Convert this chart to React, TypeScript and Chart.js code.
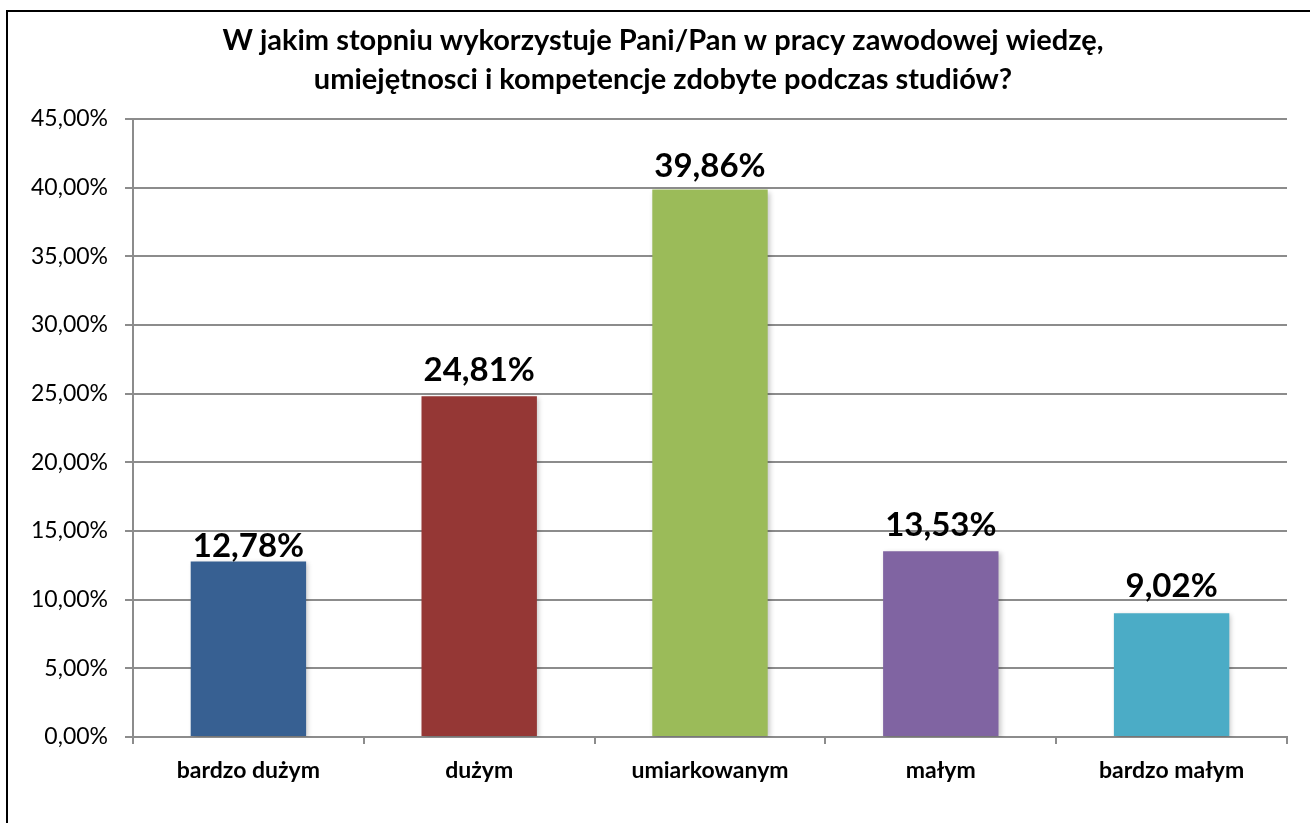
import React, { useEffect, useRef } from "react";
import { Chart, registerables } from "chart.js";

Chart.register(...registerables);

const categories = ["bardzo dużym", "dużym", "umiarkowanym", "małym", "bardzo małym"];
const values = [12.78, 24.81, 39.86, 13.53, 9.02];
const barColors = ["#376092", "#953735", "#9BBB59", "#8064A2", "#4BACC6"];
const titleLines = [
  "W jakim stopniu wykorzystuje Pani/Pan w pracy zawodowej wiedzę,",
  "umiejętnosci i kompetencje zdobyte podczas studiów?",
];
const yMin = 0;
const yMax = 45;
const yStep = 5;

const FONT = "Lato, 'Open Sans', sans-serif";
const labelOffsets = [4, 15, 13, 15, 16];

const fmt = (v: number) => v.toFixed(2).replace(".", ",") + "%";

export default function App() {
  const ref = useRef<HTMLCanvasElement | null>(null);
  useEffect(() => {
    if (!ref.current) return;
    const framePlugin = {
      id: "frame",
      beforeDraw(chart: any) {
        const ctx = chart.ctx;
        ctx.save();
        ctx.fillStyle = "#ffffff";
        ctx.fillRect(0, 0, chart.width, chart.height);
        ctx.fillStyle = "#000000";
        ctx.fillRect(6, 10, chart.width - 6, 2);
        ctx.fillRect(6, 10, 2, chart.height - 10);
        ctx.restore();
      },
      afterDraw(chart: any) {
        const ctx = chart.ctx;
        ctx.save();
        ctx.fillStyle = "#000";
        ctx.font = `bold 29px ${FONT}`;
        ctx.textAlign = "center";
        ctx.textBaseline = "alphabetic";
        ctx.fillText(titleLines[0], 663, 50);
        ctx.fillText(titleLines[1], 663, 89);
        ctx.restore();
      },
    };
    const shadowPlugin = {
      id: "barShadow",
      beforeDatasetsDraw(chart: any) {
        const ctx = chart.ctx;
        ctx.save();
        ctx.shadowColor = "rgba(0,0,0,0.22)";
        ctx.shadowBlur = 5;
        ctx.shadowOffsetX = 2;
        ctx.shadowOffsetY = 2;
      },
      afterDatasetsDraw(chart: any) {
        chart.ctx.restore();
        const ctx = chart.ctx;
        const meta = chart.getDatasetMeta(0);
        ctx.save();
        ctx.fillStyle = "#000";
        ctx.font = `bold 33px ${FONT}`;
        ctx.textAlign = "center";
        ctx.textBaseline = "alphabetic";
        meta.data.forEach((bar: any, i: number) => {
          ctx.fillText(fmt(values[i]), bar.x, bar.y - labelOffsets[i]);
        });
        ctx.restore();
      },
    };
    const chart = new Chart(ref.current, {
      type: "bar",
      data: {
        labels: categories,
        datasets: [
          {
            data: values,
            backgroundColor: barColors,
            borderWidth: 0,
            categoryPercentage: 1,
            barPercentage: 0.5,
          },
        ],
      },
      options: {
        animation: false,
        responsive: false,
        maintainAspectRatio: false,
        layout: { padding: { top: 119, right: 23, bottom: 26, left: 0 } },
        plugins: {
          legend: { display: false },
          title: { display: false },
          tooltip: { enabled: false },
        },
        scales: {
          x: {
            grid: {
              display: true,
              drawOnChartArea: false,
              drawTicks: true,
              tickLength: 7,
              color: "#8c8c8c",
              lineWidth: 2,
            },
            border: { display: true, color: "#8c8c8c", width: 2 },
            ticks: {
              color: "#000",
              font: { family: FONT, size: 23, weight: "bold" },
              padding: 13,
              maxRotation: 0,
            },
            afterFit(scale: any) {
              scale.height = 60;
            },
          },
          y: {
            min: yMin,
            max: yMax,
            grid: {
              color: "#8c8c8c",
              lineWidth: 2,
              tickLength: 8,
              drawTicks: true,
            },
            border: { display: true, color: "#8c8c8c", width: 2 },
            ticks: {
              stepSize: yStep,
              color: "#000",
              font: { family: FONT, size: 23 },
              padding: 17,
              callback: (v: any) => fmt(Number(v)),
            },
            afterFit(scale: any) {
              scale.width = 133;
            },
          },
        },
      },
      plugins: [framePlugin, shadowPlugin],
    } as any);
    return () => chart.destroy();
  }, []);
  return (
    <div style={{ position: "fixed", left: 0, top: 0, width: 1310, height: 823, background: "#fff" }}>
      <canvas ref={ref} width={1310} height={823} style={{ display: "block" }} />
    </div>
  );
}
